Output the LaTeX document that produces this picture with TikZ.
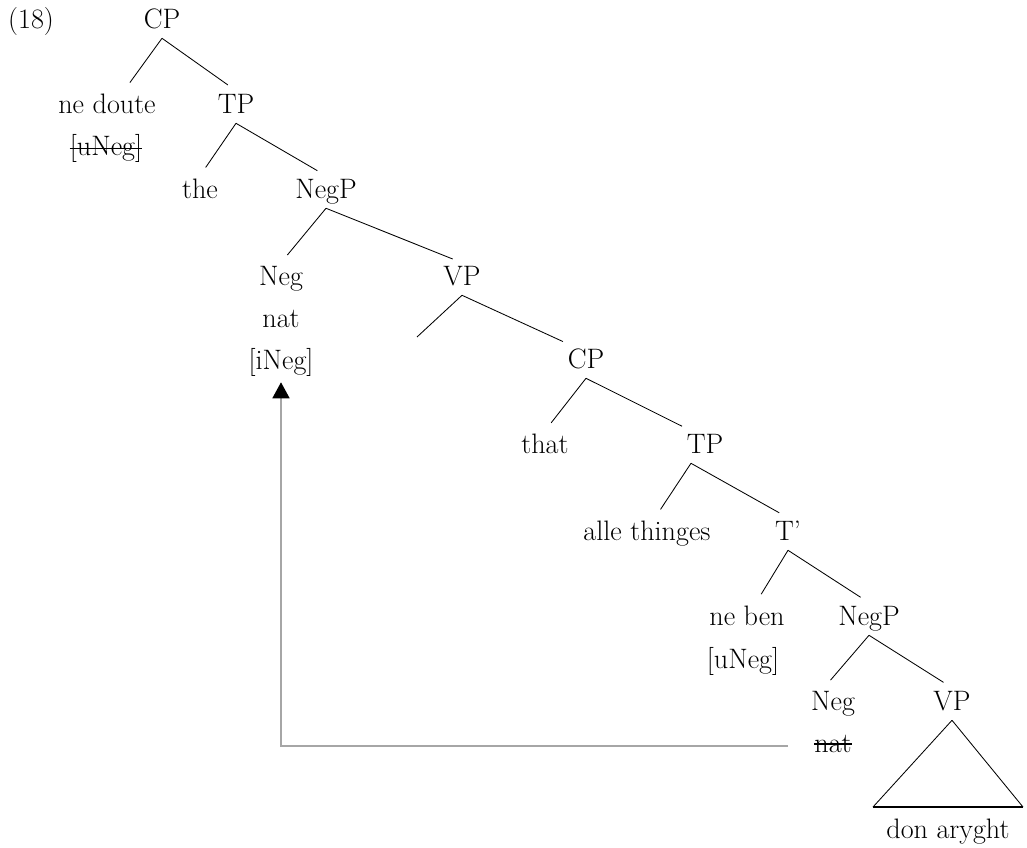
\documentclass[tikz,border=0pt]{standalone}
\usetikzlibrary{arrows.meta}

\tikzset{
  lbl/.style={anchor=base, inner sep=0pt, text height=0.55cm, text depth=0.25cm},
  branch/.style={line width=0.6pt, shorten >=0.25cm},
  strike/.style={line width=0.8pt},
}

\begin{document}
\begin{tikzpicture}[x=0.025cm, y=-0.025cm, font={\fontsize{20pt}{24pt}\selectfont}]
\useasboundingbox (0,0) rectangle (1027,848);

% upper clause
\node[lbl] (ex) at (31,28) {(18)};
\node[lbl] (CPa) at (162,28) {CP};
\node[lbl] (doute) at (107,113) {ne doute};
\node[lbl] (uNega) at (106,155) {[uNeg]};
\node[lbl] (TPa) at (236,113) {TP};
\node[lbl] (the) at (200,198) {the};
\node[lbl] (NegPa) at (326,198) {NegP};
\node[lbl] (Nega) at (281,285) {Neg};
\node[lbl] (nata) at (281,327) {nat};
\node[lbl] (iNeg) at (281,369) {[iNeg]};
\node[lbl] (VPa) at (462,285) {VP};
\coordinate (gap) at (417,337);

% embedded clause
\node[lbl] (CPb) at (586,368) {CP};
\node[lbl] (that) at (545,453) {that};
\node[lbl] (TPb) at (705,453) {TP};
\node[lbl] (alle) at (647,540) {alle thinges};
\node[lbl] (Tbar) at (788,540) {T'};
\node[lbl] (neben) at (747,625) {ne ben};
\node[lbl] (uNegb) at (743,668) {[uNeg]};
\node[lbl] (NegPb) at (869,625) {NegP};
\node[lbl] (Negb) at (833,710) {Neg};
\node[lbl] (natb) at (833,752) {nat};
\node[lbl] (VPb) at (952,710) {VP};
\node[lbl] (don) at (948,838) {don aryght};
\coordinate (tl) at (873,807);
\coordinate (tr) at (1023,807);

% branches
\draw[branch] (CPa.south) -- ([shift={(17,0)}]doute.north);
\draw[branch] (CPa.south) -- (TPa.north);
\draw[branch] (TPa.south) -- (the.north);
\draw[branch] (TPa.south) -- (NegPa.north);
\draw[branch] (NegPa.south) -- (Nega.north);
\draw[branch] (NegPa.south) -- (VPa.north);
\draw[line width=0.6pt] (VPa.south) -- (gap);
\draw[branch] (VPa.south) -- ([shift={(-14,0)}]CPb.north);
\draw[branch] (CPb.south) -- (that.north);
\draw[branch] (CPb.south) -- ([shift={(-14,0)}]TPb.north);
\draw[branch] ([shift={(-14,0)}]TPb.south) -- ([shift={(8,0)}]alle.north);
\draw[branch] ([shift={(-14,0)}]TPb.south) -- (Tbar.north);
\draw[branch] (Tbar.south) -- ([shift={(9,0)}]neben.north);
\draw[branch] (Tbar.south) -- (NegPb.north);
\draw[branch] (NegPb.south) -- ([shift={(-9,0)}]Negb.north);
\draw[branch] (NegPb.south) -- (VPb.north);

% roof over the VP
\draw[line width=0.6pt] (VPb.south) -- (tl);
\draw[line width=0.6pt] (VPb.south) -- (tr);
\draw[line width=1.2pt] (tl) -- (tr);

% checked features
\draw[strike] ([yshift=0.16cm]uNega.base west) -- ([yshift=0.16cm]uNega.base east);
\draw[strike] ([yshift=0.2cm]natb.base west) -- ([yshift=0.2cm]natb.base east);

% agreement
\draw[gray!70, line width=1.2pt, shorten <=0.65cm, shorten >=0.075cm,
  -{Triangle[black, length=0.4cm, width=0.425cm]}]
  (natb.west) -- (natb.west -| iNeg.south) -- (iNeg.south);

\end{tikzpicture}
\end{document}
